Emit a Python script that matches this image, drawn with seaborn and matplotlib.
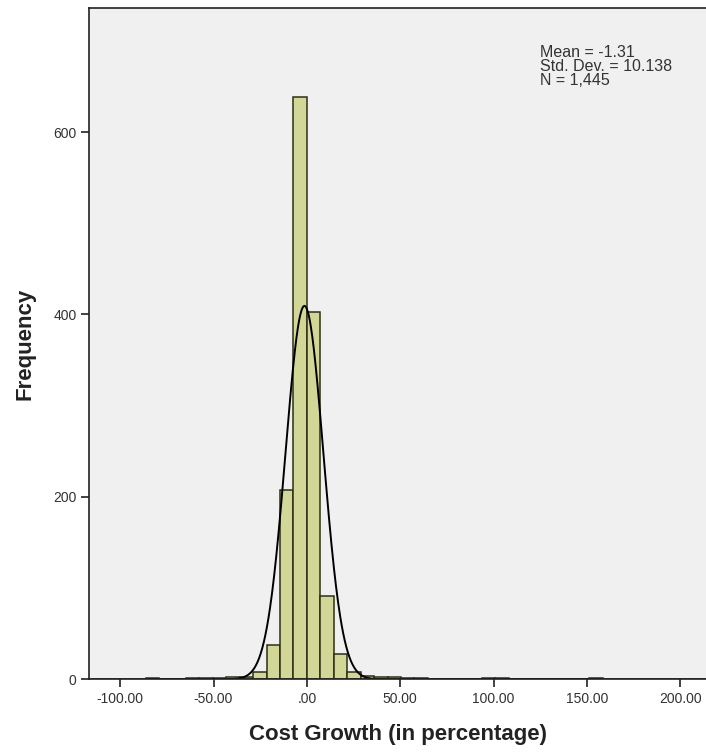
import numpy as np
import pandas as pd
import matplotlib
matplotlib.use("Agg")
import matplotlib.pyplot as plt
import seaborn as sns

# ---- data ----
bin_width = 7.2
bin_left_edges = [-86.4, -64.8, -57.6, -50.4, -43.2, -36.0, -28.8, -21.6, -14.4, -7.2,
                  0.0, 7.2, 14.4, 21.6, 28.8, 36.0, 43.2, 50.4, 57.6, 93.6, 100.8, 151.2]
bin_counts = [1, 1, 1, 1, 2, 3, 8, 38, 208, 638,
              403, 91, 28, 8, 4, 3, 2, 1, 1, 1, 1, 1]
stat_mean = -1.31
stat_sd = 10.138
stat_n = 1445
x_ticks = [-100, -50, 0, 50, 100, 150, 200]
x_tick_labels = ["-100.00", "-50.00", ".00", "50.00", "100.00", "150.00", "200.00"]
y_ticks = [0, 200, 400, 600]
y_tick_labels = ["0", "200", "400", "600"]

df = pd.DataFrame({
    "center": [e + bin_width / 2 for e in bin_left_edges],
    "count": bin_counts,
})

sns.set_theme(style="white")
plt.rcParams["font.family"] = ["Liberation Sans", "DejaVu Sans"]

fig = plt.figure(figsize=(7.06, 7.53), dpi=100)
ax = fig.add_axes([89 / 706, 1 - 679.3 / 753, 1 - 89 / 706 + 0.002, (679.3 - 8) / 753])
ax.set_facecolor("#F0F0F0")

sns.histplot(data=df, x="center", weights="count", binwidth=bin_width,
             binrange=(-86.4, 158.4), ax=ax,
             color="#D2D696", edgecolor="#2e2e14", linewidth=1.1, alpha=1.0)

xs = np.linspace(-116.7, 214.5, 1200)
ys = stat_n * bin_width * np.exp(-0.5 * ((xs - stat_mean) / stat_sd) ** 2) / (stat_sd * np.sqrt(2 * np.pi))
sns.lineplot(x=xs, y=ys, ax=ax, color="black", linewidth=1.4)

ax.set_xlim(-116.7, 214.5)
ax.set_ylim(0, 736)
ax.set_xticks(x_ticks)
ax.set_xticklabels(x_tick_labels)
ax.set_yticks(y_ticks)
ax.set_yticklabels(y_tick_labels)
ax.tick_params(axis="both", direction="out", length=6, width=1.2, color="#222222",
               labelsize=10, labelcolor="#333333", pad=3, bottom=True, left=True)

for side in ["left", "bottom", "top"]:
    ax.spines[side].set_color("#222222")
    ax.spines[side].set_linewidth(1.2)
ax.spines["right"].set_visible(False)

ax.set_xlabel("Cost Growth (in percentage)", fontsize=16, fontweight="bold",
              color="#222222", labelpad=13)
ax.set_ylabel("Frequency", fontsize=16, fontweight="bold", color="#222222", labelpad=13)

ax.text(540 / 706, 1 - 45 / 753,
        f"Mean = {stat_mean}\nStd. Dev. = {stat_sd}\nN = {stat_n:,}",
        transform=fig.transFigure, fontsize=11.5, color="#333333",
        va="top", ha="left", linespacing=0.92)

fig.savefig("out.png", dpi=100)
